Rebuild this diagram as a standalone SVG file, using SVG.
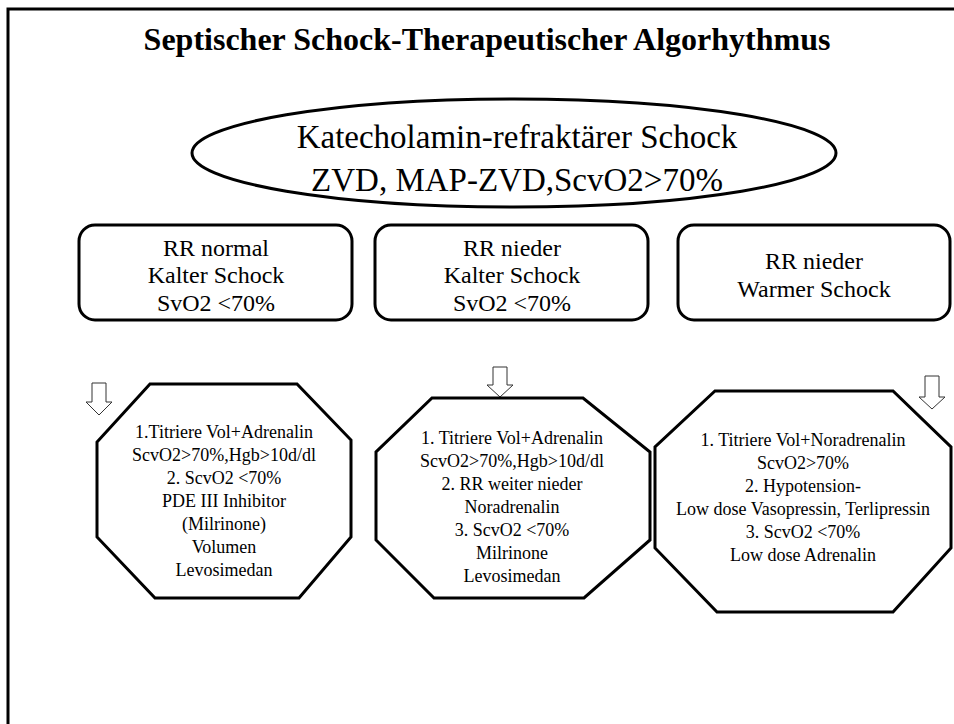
<svg xmlns="http://www.w3.org/2000/svg" width="954" height="724" viewBox="0 0 954 724">
<style>
  text { font-family: "Liberation Serif", "Times New Roman", serif; fill: #000; text-anchor: middle; }
  .title { font-size: 32px; font-weight: bold; }
  .big { font-size: 33px; }
  .box { font-size: 24px; }
  .oct { font-size: 18px; }
  .shape { fill: #fff; stroke: #000; stroke-width: 3; stroke-linejoin: miter; }
  .arrow { fill: #fff; stroke: #333; stroke-width: 1; }
  .frame { stroke: #000; stroke-width: 3; fill: none; }
</style>
<rect x="0" y="0" width="954" height="724" fill="#fff"/>
<g id="frame">
  <polyline class="frame" points="8,724 8,9 954,9"/>
</g>
<g id="title">
  <text class="title" x="487" y="50">Septischer Schock-Therapeutischer Algorhythmus</text>
</g>
<g id="start">
  <ellipse class="shape" cx="514" cy="153" rx="322" ry="54"/>
  <text class="big" x="517" y="148">Katecholamin-refraktärer Schock</text>
  <text class="big" x="517" y="191">ZVD, MAP-ZVD,ScvO2&gt;70%</text>
</g>
<g id="box1">
  <rect class="shape" x="79" y="225" width="273" height="95" rx="16"/>
  <text class="box" x="216" y="256">RR normal</text>
  <text class="box" x="216" y="283">Kalter Schock</text>
  <text class="box" x="216" y="311">SvO2 &lt;70%</text>
</g>
<g id="box2">
  <rect class="shape" x="375" y="225" width="273" height="95" rx="16"/>
  <text class="box" x="512" y="256">RR nieder</text>
  <text class="box" x="512" y="283">Kalter Schock</text>
  <text class="box" x="512" y="311">SvO2 &lt;70%</text>
</g>
<g id="box3">
  <rect class="shape" x="678" y="225" width="272" height="95" rx="16"/>
  <text class="box" x="814" y="269">RR nieder</text>
  <text class="box" x="814" y="297">Warmer Schock</text>
</g>
<g id="connectors">
  <polygon class="arrow" points="92,383 106,383 106,402 112,402 99,415 86,402 92,402"/>
  <polygon class="arrow" points="493,367 507,367 507,385 513,385 500,397 487,385 493,385"/>
  <polygon class="arrow" points="925,376 939,376 939,397 945,397 932,409 919,397 925,397"/>
</g>
<g id="oct1">
  <polygon class="shape" points="150,384 297,384 351,440 351,537 299,598 155,598 97,537 97,442"/>
  <text class="oct" x="224" y="438">1.Titriere Vol+Adrenalin</text>
  <text class="oct" x="224" y="461">ScvO2&gt;70%,Hgb&gt;10d/dl</text>
  <text class="oct" x="224" y="484">2. ScvO2 &lt;70%</text>
  <text class="oct" x="224" y="507">PDE III Inhibitor</text>
  <text class="oct" x="224" y="530">(Milrinone)</text>
  <text class="oct" x="224" y="553">Volumen</text>
  <text class="oct" x="224" y="576">Levosimedan</text>
</g>
<g id="oct2">
  <polygon class="shape" points="432,398 583,398 650,452 650,540 584,598 434,598 376,540 376,452"/>
  <text class="oct" x="512" y="444">1. Titriere Vol+Adrenalin</text>
  <text class="oct" x="512" y="467">ScvO2&gt;70%,Hgb&gt;10d/dl</text>
  <text class="oct" x="512" y="490">2. RR weiter nieder</text>
  <text class="oct" x="512" y="513">Noradrenalin</text>
  <text class="oct" x="512" y="536">3. ScvO2 &lt;70%</text>
  <text class="oct" x="512" y="559">Milrinone</text>
  <text class="oct" x="512" y="582">Levosimedan</text>
</g>
<g id="oct3">
  <polygon class="shape" points="715,391 893,391 951,447 951,548 893,612 717,612 655,548 655,447"/>
  <text class="oct" x="803" y="446">1. Titriere Vol+Noradrenalin</text>
  <text class="oct" x="803" y="469">ScvO2&gt;70%</text>
  <text class="oct" x="803" y="492">2. Hypotension-</text>
  <text class="oct" x="803" y="515">Low dose Vasopressin, Terlipressin</text>
  <text class="oct" x="803" y="538">3. ScvO2 &lt;70%</text>
  <text class="oct" x="803" y="561">Low dose Adrenalin</text>
</g>
</svg>
